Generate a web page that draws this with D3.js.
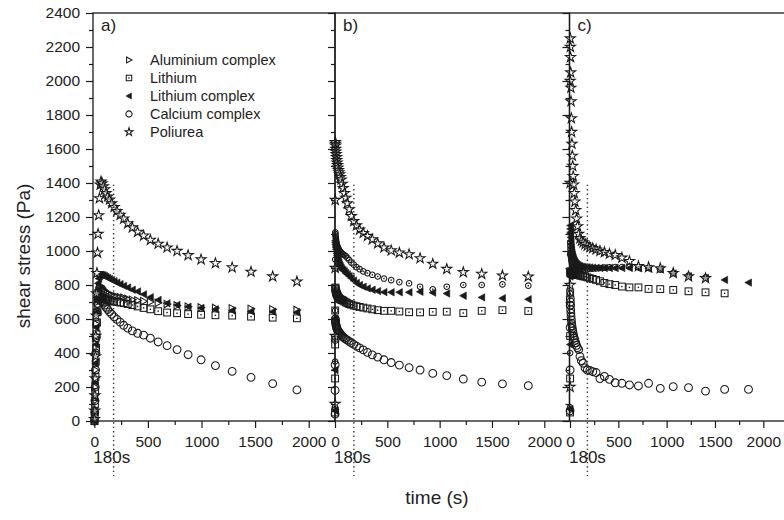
<!DOCTYPE html>
<html>
<head>
<meta charset="utf-8">
<script src="https://cdn.jsdelivr.net/npm/d3@7"></script>
<style>
  body { margin: 0; background: #fff; }
  text { font-family: Arial, "Liberation Sans", sans-serif; fill: #222; }
</style>
</head>
<body>
<svg id="chart" width="784" height="520"></svg>
<script>
// series / legend
var seriesNames = ["Aluminium complex", "Lithium", "Lithium complex", "Calcium complex", "Poliurea"];
var legendSymbols = ["triRight", "square", "triLeft", "circle", "star"];
var panelLabels = ["a)", "b)", "c)"];

var xTicks = [0, 500, 1000, 1500, 2000];
var xMinor = [250, 750, 1250, 1750];
var yTicks = [0, 200, 400, 600, 800, 1000, 1200, 1400, 1600, 1800, 2000, 2200, 2400];
var yMinor = [100, 300, 500, 700, 900, 1100, 1300, 1500, 1700, 1900, 2100, 2300];

var markTime = 180;
var markLabel = "180s";

// time (s) of each reading
var timesA = [2, 4, 6, 8, 11, 14, 17, 21, 25, 30, 35, 41, 48, 55, 63, 73, 84, 96, 110, 125, 142,
  162, 185, 211, 241, 274, 312, 355, 404, 460, 523, 596, 679, 772, 875, 996, 1130, 1286, 1462, 1664, 1890];
var timesBC = [0.5, 1, 1.5, 2, 3, 4, 5, 7, 9, 11, 14, 17, 20, 24, 28, 33, 38, 44, 51, 59, 68, 78, 90,
  103, 118, 136, 156, 179, 205, 235, 270, 310, 356, 408, 468, 537, 615, 708, 813, 934, 1068, 1226, 1402, 1600, 1847];

// panel a) shear stress (Pa)
var aAluminium = [0, 50, 120, 200, 300, 400, 490, 570, 640, 700, 740, 765, 782, 795, 790, 782, 774, 766, 758, 752, 746,
  741, 736, 732, 728, 725, 718, 713, 709, 705, 700, 695, 688, 680, 672, 668, 665, 663, 660, 657, 653];
var aLithium = [0, 40, 100, 170, 260, 350, 430, 510, 580, 640, 690, 715, 728, 732, 730, 727, 724, 720, 716, 712, 708,
  705, 702, 700, 697, 693, 688, 682, 674, 665, 657, 646, 638, 634, 629, 625, 622, 620, 614, 608, 604];
var aLithiumComplex = [0, 60, 140, 230, 340, 450, 550, 640, 710, 770, 810, 838, 852, 858, 860, 858, 856, 852, 847, 842, 836,
  830, 822, 814, 805, 795, 785, 772, 762, 745, 728, 712, 692, 682, 672, 665, 657, 650, 645, 643, 640];
var aCalcium = [0, 50, 120, 200, 300, 400, 490, 570, 640, 690, 720, 735, 725, 716, 708, 700, 694, 682, 668, 656, 642,
  628, 612, 598, 582, 563, 546, 530, 516, 505, 487, 465, 443, 420, 390, 360, 326, 292, 257, 220, 183];
var aPoliurea = [10, 60, 150, 250, 380, 500, 620, 750, 870, 990, 1100, 1210, 1310, 1390, 1408, 1398, 1380, 1362, 1340, 1320, 1302,
  1280, 1258, 1235, 1212, 1190, 1162, 1138, 1112, 1090, 1065, 1042, 1020, 1000, 975, 950, 928, 903, 877, 850, 820];

// panel b)
var bAluminium = [80, 350, 650, 950, 1110, 1100, 1090, 1078, 1068, 1058, 1048, 1040, 1032, 1025, 1018, 1012, 1006, 1000, 995, 990,
  985, 980, 975, 970, 960, 947, 932, 920, 905, 893, 880, 870, 860, 850, 838, 829, 817, 810, 790, 775, 790, 800, 800, 804, 796];
var bLithium = [50, 250, 450, 650, 785, 780, 775, 768, 762, 757, 752, 747, 742, 737, 732, 727, 723, 719, 716, 713,
  711, 708, 703, 698, 693, 688, 684, 679, 675, 671, 667, 662, 657, 652, 648, 648, 644, 640, 639, 642, 643, 635, 648, 652, 647];
var bLithiumComplex = [60, 300, 600, 900, 1060, 1050, 1040, 1030, 1020, 1010, 998, 986, 975, 963, 952, 940, 930, 920, 910, 900,
  892, 886, 880, 870, 862, 852, 840, 826, 812, 800, 790, 780, 772, 764, 758, 757, 757, 757, 760, 755, 750, 737, 727, 722, 716];
var bCalcium = [40, 180, 330, 480, 600, 592, 585, 575, 567, 560, 553, 547, 541, 536, 531, 526, 522, 518, 512, 506,
  500, 493, 488, 482, 476, 468, 460, 451, 440, 430, 418, 404, 389, 376, 360, 344, 329, 314, 300, 280, 267, 247, 229, 218, 208];
var bPoliurea = [100, 500, 900, 1300, 1640, 1630, 1620, 1600, 1585, 1570, 1552, 1535, 1520, 1505, 1490, 1475, 1462, 1450, 1435, 1420,
  1395, 1370, 1340, 1312, 1280, 1245, 1205, 1175, 1150, 1125, 1105, 1088, 1068, 1044, 1020, 1003, 990, 980, 957, 924, 894, 875, 865, 855, 849];

// panel c)
var cAluminium = [80, 400, 750, 980, 1050, 1030, 1010, 990, 975, 962, 950, 940, 930, 922, 915, 910, 905, 900, 896, 893,
  890, 888, 887, 887, 888, 889, 890, 892, 894, 896, 898, 900, 902, 904, 905, 906, 906, 905, 900, 890, 870, 855, 845, null, null];
var cLithium = [50, 250, 500, 750, 880, 878, 876, 874, 872, 870, 868, 866, 865, 864, 863, 862, 861, 860, 860, 859,
  859, 859, 858, 856, 854, 851, 849, 845, 840, 836, 830, 822, 812, 805, 800, 791, 786, 786, 777, 776, 771, 763, 757, 751, null];
var cLithiumComplex = [70, 450, 850, 1100, 1150, 1130, 1110, 1080, 1060, 1040, 1020, 1005, 990, 978, 968, 958, 950, 942, 935, 928,
  922, 917, 913, 910, 908, 906, 905, 904, 903, 902, 901, 900, 900, 900, 900, 900, 900, 898, 896, 893, 868, 852, 842, 830, 814];
var cCalcium = [60, 300, 550, 680, 720, 700, 680, 655, 635, 615, 595, 575, 560, 545, 530, 515, 500, 488, 475, 460,
  445, 432, 420, 380, 355, 340, 312, 300, 298, 290, 285, 250, 262, 245, 225, 222, 212, 206, 222, 192, 202, 196, 176, 186, 186];
var cPoliurea = [200, 800, 1400, 2000, 2250, 2200, 2140, 2050, 1960, 1880, 1780, 1700, 1630, 1560, 1500, 1440, 1390, 1340, 1290, 1240,
  1190, 1145, 1100, 1075, 1060, 1050, 1040, 1030, 1022, 1016, 1008, 1000, 993, 983, 976, 960, 940, 910, 904, 898, 870, 850, 840, null, null];

var panels = [
  { label: panelLabels[0], times: timesA, series: [aAluminium, aLithium, aLithiumComplex, aCalcium, aPoliurea],
    alSymbol: "triRight", left: 93, right: 335, x0: 94.3, x2000: 308.7 },
  { label: panelLabels[1], times: timesBC, series: [bAluminium, bLithium, bLithiumComplex, bCalcium, bPoliurea],
    alSymbol: "dotCircle", left: 335, right: 569.5, x0: 335, x2000: 544.3 },
  { label: panelLabels[2], times: timesBC, series: [cAluminium, cLithium, cLithiumComplex, cCalcium, cPoliurea],
    alSymbol: "dotCircle", left: 569.5, right: 820, x0: 570, x2000: 763.3 }
];

var svg = d3.select("#chart");
var top_ = 13, bottom_ = 421;
var ink = "#1a1a1a";

var y = d3.scaleLinear().domain([0, 2400]).range([bottom_, top_]);

function marker(g, type, k) {
  k = k || 1;
  var sw = 1.05;
  if (type == "triRight") {
    g.append("path").attr("d", "M" + (-3 * k) + "," + (-3.7 * k) + "L" + (3.7 * k) + ",0L" + (-3 * k) + "," + (3.7 * k) + "Z")
      .attr("fill", "none").attr("stroke", ink).attr("stroke-width", sw);
  } else if (type == "triLeft") {
    g.append("path").attr("d", "M" + (3 * k) + "," + (-3.7 * k) + "L" + (-3.7 * k) + ",0L" + (3 * k) + "," + (3.7 * k) + "Z")
      .attr("fill", ink).attr("stroke", ink).attr("stroke-width", 0.6);
  } else if (type == "square") {
    g.append("rect").attr("x", -3.4 * k).attr("y", -3.4 * k).attr("width", 6.8 * k).attr("height", 6.8 * k)
      .attr("fill", "none").attr("stroke", ink).attr("stroke-width", sw);
    g.append("rect").attr("x", -0.7).attr("y", -0.7).attr("width", 1.4).attr("height", 1.4).attr("fill", ink);
  } else if (type == "circle") {
    g.append("circle").attr("r", 3.9 * k).attr("fill", "none").attr("stroke", ink).attr("stroke-width", sw);
  } else if (type == "dotCircle") {
    g.append("circle").attr("r", 2.8 * k).attr("fill", "none").attr("stroke", ink).attr("stroke-width", sw);
    g.append("rect").attr("x", -0.7).attr("y", -0.7).attr("width", 1.4).attr("height", 1.4).attr("fill", ink);
  } else if (type == "star") {
    g.append("path").attr("d", d3.symbol().type(d3.symbolStar).size(32 * k * k)())
      .attr("fill", "#f2f2f2").attr("fill-opacity", 0.6).attr("stroke", ink).attr("stroke-width", sw);
  }
}

// draw order: bottom to top
var drawOrder = [3, 1, 0, 2, 4];

panels.forEach(function(p, pi) {
  var x = d3.scaleLinear().domain([0, 2000]).range([p.x0, p.x2000]);
  var g = svg.append("g");

  // markers
  var plot = g.append("g");
  drawOrder.forEach(function(si) {
    var vals = p.series[si];
    var sym = si == 0 ? p.alSymbol : legendSymbols[si];
    var pts = p.times.map(function(t, i) { return { t: t, v: vals[i] }; })
      .filter(function(d) { return d.v != null; });
    plot.selectAll(null).data(pts).enter().append("g")
      .attr("transform", function(d) { return "translate(" + x(d.t) + "," + y(d.v) + ")"; })
      .each(function() { marker(d3.select(this), sym); });
  });

  // 180 s marker line
  g.append("line")
    .attr("x1", x(markTime)).attr("x2", x(markTime))
    .attr("y1", y(1390)).attr("y2", 476)
    .attr("stroke", "#333").attr("stroke-width", 1.4).attr("stroke-dasharray", "1.4,3");
  g.append("text").attr("x", p.x0 - 1).attr("y", 463)
    .style("font-size", "17px").text(markLabel);

  // frame
  g.append("rect").attr("x", p.left).attr("y", top_)
    .attr("width", p.right - p.left).attr("height", bottom_ - top_)
    .attr("fill", "none").attr("stroke", ink).attr("stroke-width", 1.3);

  // x axis
  var xa = g.append("g").attr("transform", "translate(0," + bottom_ + ")");
  xa.call(d3.axisBottom(x).tickValues(xTicks).tickSize(7).tickPadding(8).tickFormat(d3.format("d")));
  xa.append("g").call(d3.axisBottom(x).tickValues(xMinor).tickSize(4).tickFormat(""));
  xa.selectAll(".domain").remove();
  xa.selectAll("line").attr("stroke", ink).attr("stroke-width", 1.2);
  xa.selectAll("text").style("font-size", "15.5px").style("font-family", "Arial, 'Liberation Sans', sans-serif").attr("fill", "#222");

  // y axis
  var ya = g.append("g").attr("transform", "translate(" + p.left + ",0)");
  ya.call(d3.axisLeft(y).tickValues(yTicks).tickSize(7).tickPadding(6).tickFormat(pi == 0 ? d3.format("d") : ""));
  ya.append("g").call(d3.axisLeft(y).tickValues(yMinor).tickSize(4).tickFormat(""));
  ya.selectAll(".domain").remove();
  ya.selectAll("line").attr("stroke", ink).attr("stroke-width", 1.2);
  ya.selectAll("text").style("font-size", "15.5px").style("font-family", "Arial, 'Liberation Sans', sans-serif").attr("fill", "#222");

  // panel label
  g.append("text").attr("x", p.left + 8).attr("y", 31).style("font-size", "17px").text(p.label);
});

// legend in panel a
var lg = svg.append("g");
seriesNames.forEach(function(name, i) {
  var yy = 60 + i * 18;
  var m = lg.append("g").attr("transform", "translate(129," + yy + ")");
  marker(m, legendSymbols[i], 0.8);
  lg.append("text").attr("x", 150).attr("y", yy + 5).style("font-size", "14.5px").text(name);
});

// axis titles
svg.append("text").attr("transform", "translate(30,256) rotate(-90)")
  .attr("text-anchor", "middle").style("font-size", "19px").text("shear stress (Pa)");
svg.append("text").attr("x", 437).attr("y", 504)
  .attr("text-anchor", "middle").style("font-size", "19px").text("time (s)");
</script>
</body>
</html>
